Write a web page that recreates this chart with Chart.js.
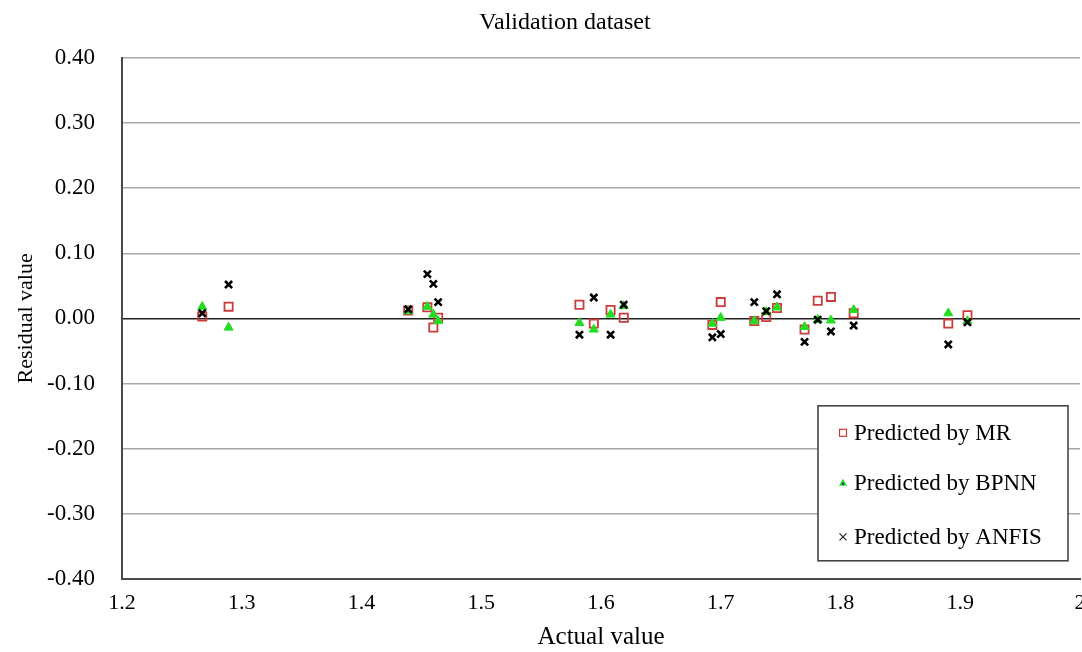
<!DOCTYPE html>
<html>
<head>
<meta charset="utf-8">
<script src="https://cdn.jsdelivr.net/npm/chart.js@4.4.1/dist/chart.umd.min.js"></script>
<style>
  html, body { margin: 0; padding: 0; background: #fff; overflow: hidden; }
</style>
</head>
<body>
<canvas id="residualChart" width="1130" height="652"></canvas>
<script>
// Validation dataset: residuals vs actual value
const actualValues = [1.267, 1.289, 1.439, 1.455, 1.460, 1.464, 1.582, 1.594, 1.608, 1.619, 1.693,
  1.700, 1.728, 1.738, 1.747, 1.770, 1.781, 1.792, 1.811, 1.890, 1.906];
const residualMR = [0.003, 0.018, 0.012, 0.017, -0.014, 0.001, 0.021, -0.008, 0.013, 0.001, -0.010,
  0.025, -0.004, 0.002, 0.016, -0.017, 0.027, 0.033, 0.008, -0.008, 0.005];
const residualBPNN = [0.018, -0.014, 0.011, 0.018, 0.006, -0.004, -0.007, -0.017, 0.006, 0.019, -0.008,
  0.001, -0.004, 0.010, 0.017, -0.013, -0.002, -0.003, 0.013, 0.008, -0.004];
const residualANFIS = [0.008, 0.052, 0.014, 0.068, 0.053, 0.025, -0.025, 0.032, -0.025, 0.021, -0.029,
  -0.024, 0.025, 0.011, 0.037, -0.036, -0.002, -0.020, -0.011, -0.040, -0.006];
const seriesNames = ["Predicted by MR", "Predicted by BPNN", "Predicted by ANFIS"];
const xTickValues = [1.2, 1.3, 1.4, 1.5, 1.6, 1.7, 1.8, 1.9, 2.0];
const xTickLabels = ["1.2", "1.3", "1.4", "1.5", "1.6", "1.7", "1.8", "1.9", "2"];
const yTickValues = [-0.4, -0.3, -0.2, -0.1, 0, 0.1, 0.2, 0.3, 0.4];
const yTickLabels = ["-0.40", "-0.30", "-0.20", "-0.10", "0.00", "0.10", "0.20", "0.30", "0.40"];

const serif = '"Liberation Serif", "Times New Roman", serif';
const mrColor = "#cc3b3b";
const bpnnColor = "#22dd22";
const anfisColor = "#000000";

function toPoints(ys) {
  return actualValues.map((x, i) => ({ x: x, y: ys[i] }));
}

// legend box drawn inside the plot, lower right
const boxLegend = {
  id: "boxLegend",
  afterDatasetsDraw(chart) {
    const ctx = chart.ctx;
    const area = chart.chartArea;
    const left = area.right - 262, top = area.top + 348, w = 250, h = 155;
    ctx.save();
    ctx.fillStyle = "#fff";
    ctx.fillRect(left, top, w, h);
    ctx.strokeStyle = "#3a3a3a";
    ctx.lineWidth = 1.5;
    ctx.strokeRect(left, top, w, h);
    ctx.textBaseline = "middle";
    const rows = [27, 77, 131];
    const mx = left + 25;
    // square
    let y = top + rows[0];
    ctx.strokeStyle = mrColor; ctx.lineWidth = 1.2;
    ctx.strokeRect(mx - 3.5, y - 3.5, 7, 7);
    // triangle
    y = top + rows[1];
    ctx.fillStyle = bpnnColor;
    ctx.beginPath(); ctx.moveTo(mx, y - 4); ctx.lineTo(mx + 4, y + 3); ctx.lineTo(mx - 4, y + 3); ctx.closePath(); ctx.fill();
    ctx.fillStyle = "#1f2f8f";
    ctx.fillRect(mx - 1, y, 2, 2);
    // cross
    y = top + rows[2];
    ctx.strokeStyle = "#222"; ctx.lineWidth = 1.2;
    ctx.beginPath(); ctx.moveTo(mx - 3.5, y - 3.5); ctx.lineTo(mx + 3.5, y + 3.5);
    ctx.moveTo(mx + 3.5, y - 3.5); ctx.lineTo(mx - 3.5, y + 3.5); ctx.stroke();
    ctx.font = "23px " + serif;
    ctx.fillStyle = "#000";
    seriesNames.forEach((name, i) => ctx.fillText(name, left + 36, top + rows[i] + 1));
    ctx.restore();
  }
};

const ctx = document.getElementById("residualChart").getContext("2d");
window.residualChartInstance = new Chart(ctx, {
  type: "scatter",
  data: {
    datasets: [
      {
        label: seriesNames[0],
        data: toPoints(residualMR),
        pointStyle: "rect",
        pointRadius: 5.8,
        pointBorderWidth: 1.8,
        borderColor: mrColor,
        backgroundColor: "rgba(255,255,255,0)",
        order: 2
      },
      {
        label: seriesNames[1],
        data: toPoints(residualBPNN),
        pointStyle: "triangle",
        pointRadius: 5.2,
        pointBorderWidth: 1,
        borderColor: bpnnColor,
        backgroundColor: bpnnColor,
        order: 1
      },
      {
        label: seriesNames[2],
        data: toPoints(residualANFIS),
        pointStyle: "crossRot",
        pointRadius: 5,
        pointBorderWidth: 2.6,
        borderColor: anfisColor,
        backgroundColor: anfisColor,
        order: 0
      }
    ]
  },
  options: {
    responsive: false,
    animation: false,
    devicePixelRatio: 1,
    layout: { padding: 0 },
    plugins: {
      legend: { display: false },
      tooltip: { enabled: false },
      title: {
        display: true,
        text: "Validation dataset",
        color: "#000",
        font: { family: serif, size: 24, weight: "normal" },
        padding: { top: 8, bottom: 21 }
      }
    },
    scales: {
      x: {
        type: "linear",
        min: 1.2,
        max: 2.0,
        afterBuildTicks: s => { s.ticks = xTickValues.map(v => ({ value: v })); },
        afterFit: s => { s.height = 73; },
        grid: { display: false, drawTicks: false },
        border: { display: true, color: "#4a4a4a", width: 2 },
        ticks: {
          color: "#000",
          padding: 11,
          maxRotation: 0,
          autoSkip: false,
          font: { family: serif, size: 22 },
          callback: (v, i) => xTickLabels[i]
        },
        title: {
          display: true,
          text: "Actual value",
          color: "#000",
          font: { family: serif, size: 25 },
          padding: { top: 0, bottom: 0 }
        }
      },
      y: {
        min: -0.4,
        max: 0.4,
        afterBuildTicks: s => { s.ticks = yTickValues.map(v => ({ value: v })); },
        afterFit: s => { s.width = 122; },
        grid: {
          drawTicks: false,
          color: c => (c.tick && Math.abs(c.tick.value) < 1e-9 ? "#202020" : "#a8a8a8"),
          lineWidth: 1.5
        },
        border: { display: true, color: "#4a4a4a", width: 2 },
        ticks: {
          color: "#000",
          padding: 27,
          autoSkip: false,
          font: { family: serif, size: 23 },
          callback: (v, i) => yTickLabels[i]
        },
        title: {
          display: true,
          text: "Residual value",
          color: "#000",
          font: { family: serif, size: 22 },
          padding: { top: 13, bottom: 0 }
        }
      },
      // empty spacer on the right (plot continues past the window edge)
      yRight: {
        position: "right",
        min: -0.4,
        max: 0.4,
        afterFit: s => { s.width = 50; },
        grid: { display: false, drawTicks: false },
        border: { display: false },
        ticks: { display: false }
      }
    }
  },
  plugins: [boxLegend]
});
</script>
</body>
</html>
